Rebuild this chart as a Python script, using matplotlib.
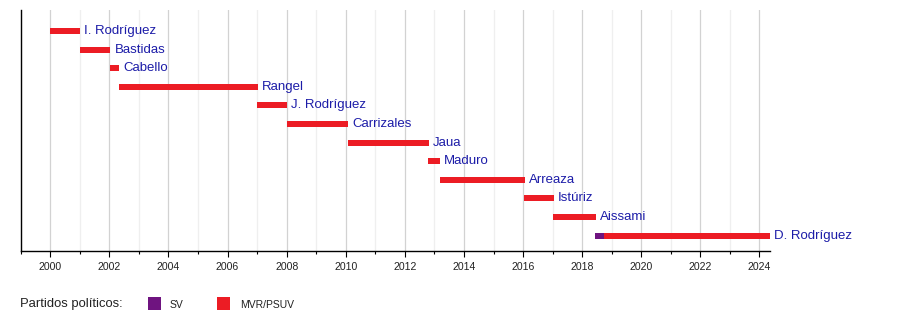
import matplotlib
matplotlib.use("Agg")
import matplotlib.pyplot as plt
from matplotlib.patches import Rectangle
from matplotlib.ticker import MultipleLocator, FuncFormatter
import pandas as pd

# Vice presidents and their terms
names = ["I. Rodríguez", "Bastidas", "Cabello", "Rangel", "J. Rodríguez",
         "Carrizales", "Jaua", "Maduro", "Arreaza", "Istúriz", "Aissami",
         "D. Rodríguez"]
# each term split into (start, end, party) segments
segments = [
    [("2000-01-01", "2001-01-04", "MVR/PSUV")],
    [("2001-01-04", "2002-01-13", "MVR/PSUV")],
    [("2002-01-13", "2002-04-28", "MVR/PSUV")],
    [("2002-04-28", "2007-01-10", "MVR/PSUV")],
    [("2007-01-03", "2008-01-08", "MVR/PSUV")],
    [("2008-01-03", "2010-01-26", "MVR/PSUV")],
    [("2010-01-26", "2012-10-20", "MVR/PSUV")],
    [("2012-10-13", "2013-03-08", "MVR/PSUV")],
    [("2013-03-08", "2016-01-20", "MVR/PSUV")],
    [("2016-01-10", "2017-01-14", "MVR/PSUV")],
    [("2017-01-04", "2018-06-20", "MVR/PSUV")],
    [("2018-06-14", "2018-10-01", "SV"), ("2018-10-01", "2024-05-10", "MVR/PSUV")],
]
parties = ["SV", "MVR/PSUV"]
party_colors = {"SV": "#6f1480", "MVR/PSUV": "#ec1c24"}
axis_start = "1999-01-01"
axis_end = "2024-05-12"


def dec_year(s):
    t = pd.Timestamp(s)
    y0 = pd.Timestamp(year=t.year, month=1, day=1)
    y1 = pd.Timestamp(year=t.year + 1, month=1, day=1)
    return t.year + (t - y0) / (y1 - y0)


fig = plt.figure(figsize=(9, 3.3), dpi=100)
ax = fig.add_axes([0.023, 0.2403, 0.8327, 0.7294])

label_color = "#1c1ca8"
for i, (name, segs) in enumerate(zip(names, segments)):
    for s, e, p in segs:
        x0, x1 = dec_year(s), dec_year(e)
        ax.barh(i, x1 - x0, left=x0, height=0.32, color=party_colors[p],
                linewidth=0, zorder=3)
    end = dec_year(segs[-1][1])
    ax.annotate(name, (end, i), xytext=(3, 0), textcoords="offset points",
                va="center", ha="left", fontsize=9.5, color=label_color,
                family="Liberation Sans", annotation_clip=False)

ax.set_xlim(dec_year(axis_start), dec_year(axis_end))
ax.set_ylim(11.81, -1.13)

ax.xaxis.set_major_locator(MultipleLocator(2))
ax.xaxis.set_minor_locator(MultipleLocator(1))
ax.xaxis.set_major_formatter(FuncFormatter(lambda v, p: f"{int(round(v))}"))
ax.grid(which="major", axis="x", color="#d2d2d2", linewidth=0.9, zorder=0)
ax.grid(which="minor", axis="x", color="#efefef", linewidth=0.9, zorder=0)
ax.set_axisbelow(True)
ax.tick_params(axis="x", which="major", length=4, width=0.8, pad=4,
               labelsize=7.6, labelcolor="#222222")
ax.tick_params(axis="x", which="minor", length=2.5, width=0.8)
for lab in ax.get_xticklabels():
    lab.set_family("Liberation Sans")
ax.set_yticks([])
for side in ("top", "right"):
    ax.spines[side].set_visible(False)
for side in ("left", "bottom"):
    ax.spines[side].set_color("black")
    ax.spines[side].set_linewidth(1.0)

# Party legend
W, H = 900, 330
fig.text(20 / W, 1 - 304 / H, "Partidos políticos:", fontsize=9.4,
         family="Liberation Sans", color="#222222", va="center", ha="left")
legend_pos = {"SV": (148, 170), "MVR/PSUV": (217, 240)}
for p in parties:
    bx, tx = legend_pos[p]
    fig.patches.append(Rectangle((bx / W, 1 - 310 / H), 13 / W, 13 / H,
                                 transform=fig.transFigure,
                                 color=party_colors[p], linewidth=0))
    fig.text(tx / W, 1 - 305 / H, p, fontsize=7.5, family="Liberation Sans",
             color="#222222", va="center", ha="left")

fig.savefig("out.png", dpi=100)
